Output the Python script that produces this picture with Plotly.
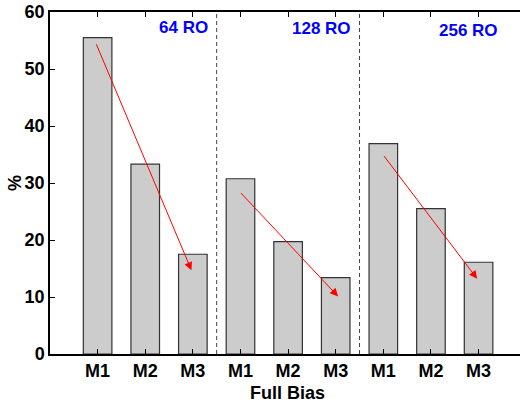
import plotly.graph_objects as go

# ---- data ----
positions = [1, 2, 3, 4, 5, 6, 7, 8, 9]
tick_labels = ["M1", "M2", "M3", "M1", "M2", "M3", "M1", "M2", "M3"]
values = [55.5, 33.3, 17.5, 30.75, 19.7, 13.4, 36.9, 25.5, 16.1]
group_labels = ["64 RO", "128 RO", "256 RO"]
group_label_x = [3.36, 6.36, 9.45]
group_label_y = [57.2, 57.1, 56.7]
separators = [3.5, 6.5]
arrow_start_x = [0.96, 3.98, 6.99]
arrow_start_y = [54.6, 28.5, 35.0]
arrow_end_x = [2.97, 6.05, 8.97]
arrow_end_y = [14.7, 10.1, 13.2]

FONT = "Liberation Sans, Arial, Helvetica, sans-serif"

fig = go.Figure()
fig.add_trace(go.Bar(
    x=positions, y=values, width=0.6,
    marker=dict(color="#cccccc", line=dict(color="#333333", width=1.2)),
    showlegend=False,
))

for s in separators:
    fig.add_shape(type="line", xref="x", yref="y", x0=s, x1=s, y0=0, y1=60,
                  line=dict(color="#444444", width=1, dash="4px,3px"), layer="below")

for t, x, y in zip(group_labels, group_label_x, group_label_y):
    fig.add_annotation(x=x, y=y, xref="x", yref="y", text=t, showarrow=False,
                       xanchor="right", yanchor="middle",
                       font=dict(family=FONT, size=17, color="#0000ff", weight="bold"))

for sx, sy, ex, ey in zip(arrow_start_x, arrow_start_y, arrow_end_x, arrow_end_y):
    fig.add_annotation(x=ex, y=ey, ax=sx, ay=sy, xref="x", yref="y", axref="x", ayref="y",
                       text="", showarrow=True, arrowhead=2, arrowsize=1.6, arrowwidth=1,
                       arrowcolor="#ff0000", standoff=0, startstandoff=0)

# axis titles as annotations
fig.add_annotation(x=0.506, y=-0.114, xref="paper", yref="paper", text="Full Bias",
                   showarrow=False, xanchor="center", yanchor="middle",
                   font=dict(family=FONT, size=18, weight="bold"))
fig.add_annotation(x=-0.0745, y=0.5, xref="paper", yref="paper", text="%", textangle=-90,
                   showarrow=False, xanchor="center", yanchor="middle",
                   font=dict(family=FONT, size=18, weight="bold"))

fig.update_layout(
    width=520, height=406,
    margin=dict(l=50, r=0, t=12, b=52, autoexpand=False),
    plot_bgcolor="white", paper_bgcolor="white",
    font=dict(family=FONT, size=18, color="black", weight="bold"),
    xaxis=dict(
        range=[0, 9.87], tickmode="array", tickvals=positions, ticktext=tick_labels,
        showline=True, linecolor="black", linewidth=1.5, mirror="ticks",
        ticks="inside", ticklen=5, tickcolor="black", showgrid=False, zeroline=False,
        automargin=False,
        tickfont=dict(family=FONT, size=18, weight="bold"),
    ),
    yaxis=dict(
        range=[0, 60], tickvals=[0, 10, 20, 30, 40, 50, 60],
        showline=True, linecolor="black", linewidth=1.5,
        ticks="inside", ticklen=5, tickcolor="black", showgrid=False, zeroline=False,
        automargin=False,
        tickfont=dict(family=FONT, size=18, weight="bold"),
    ),
)

fig.write_html(
    "out.html",
    config={"displayModeBar": False},
    post_script="document.body.style.margin='0';document.body.style.overflow='hidden';",
)
